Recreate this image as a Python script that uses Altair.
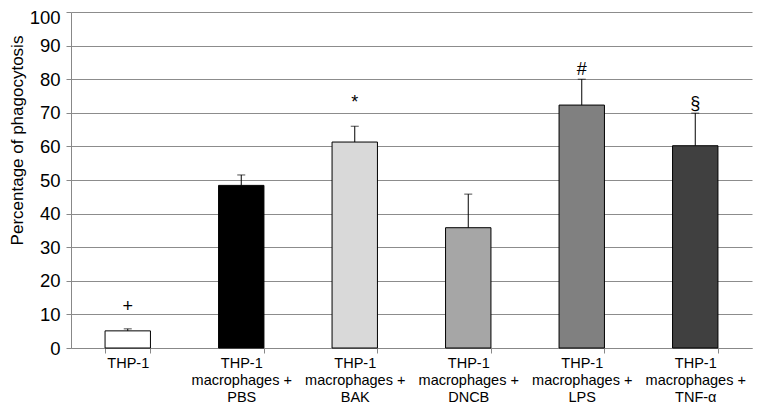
import altair as alt
import pandas as pd

categories = ["THP-1", "THP-1|macrophages +|PBS", "THP-1|macrophages +|BAK",
              "THP-1|macrophages +|DNCB", "THP-1|macrophages +|LPS", "THP-1|macrophages +|TNF-α"]
values = [5.1, 48.4, 61.3, 35.8, 72.3, 60.2]
errors = [0.6, 3.1, 4.7, 10.0, 7.7, 9.7]
marks = ["+", "", "*", "", "#", "§"]
mark_pos = [12.3, 0, 73.0, 0, 82.7, 72.6]
colors = ["#ffffff", "#000000", "#d9d9d9", "#a6a6a6", "#808080", "#404040"]

df = pd.DataFrame({
    "cat": categories,
    "val": values,
    "top": [v + e for v, e in zip(values, errors)],
    "mark": marks,
    "mpos": mark_pos,
    "color": colors,
})

FONT = "Liberation Sans"

x_axis = alt.Axis(labelExpr="datum.value ? split(datum.value, '|') : ''", labelAngle=0,
                  labelFontSize=14.5, labelColor="#000", labelFont=FONT,
                  labelPadding=3, labelLineHeight=17, labelBaseline="top",
                  tickBand="extent", tickColor="#888", tickSize=5,
                  domainColor="#888", grid=False)
x_scale = alt.Scale(paddingInner=0.6, paddingOuter=0.3)
y_axis = alt.Axis(values=list(range(0, 101, 10)), labelFontSize=18.5, labelOverlap=False,
                  labelFont=FONT, labelColor="#000", titleFont=FONT,
                  titleFontSize=17, titleFontWeight="normal", titleColor="#000",
                  titleX=-54, titleY=128, titleAngle=270, titleAlign="center",
                  titleBaseline="middle",
                  labelOffset=alt.ConditionalAxisNumber(
                      condition={"test": "datum.value == 100", "value": 5}, value=0),
                  gridColor="#8c8c8c", gridWidth=1,
                  domainColor="#888", tickColor="#888", tickSize=5,
                  labelPadding=6)
y_scale = alt.Scale(domain=[0, 100])
YT = "Percentage of phagocytosis"


def X():
    return alt.X("cat:N", sort=categories, title=None, scale=x_scale, axis=x_axis)


def Y(field):
    return alt.Y(field, scale=y_scale, title=YT, axis=y_axis)


bars = alt.Chart(df).mark_bar(stroke="#000", strokeWidth=1).encode(
    x=X(), y=Y("val:Q"), fill=alt.Fill("color:N", scale=None))
err = alt.Chart(df).mark_rule(color="#000", strokeWidth=1).encode(
    x=X(), y=Y("val:Q"), y2="top:Q")
cap = alt.Chart(df).mark_tick(color="#000", thickness=1, size=8, orient="horizontal").encode(
    x=X(), y=Y("top:Q"))
ann = alt.Chart(df).mark_text(font=FONT, fontSize=18, baseline="middle", color="#000").encode(
    x=X(), y=Y("mpos:Q"), text="mark:N")

chart = alt.layer(bars, err, cap, ann).properties(
    width=681, height=336,
    autosize=alt.AutoSizeParams(type="none"),
    padding={"left": 63, "top": 4, "right": 8, "bottom": 57},
).configure_view(stroke=None)

chart.save("out.html", embed_options={"renderer": "svg", "actions": False})
